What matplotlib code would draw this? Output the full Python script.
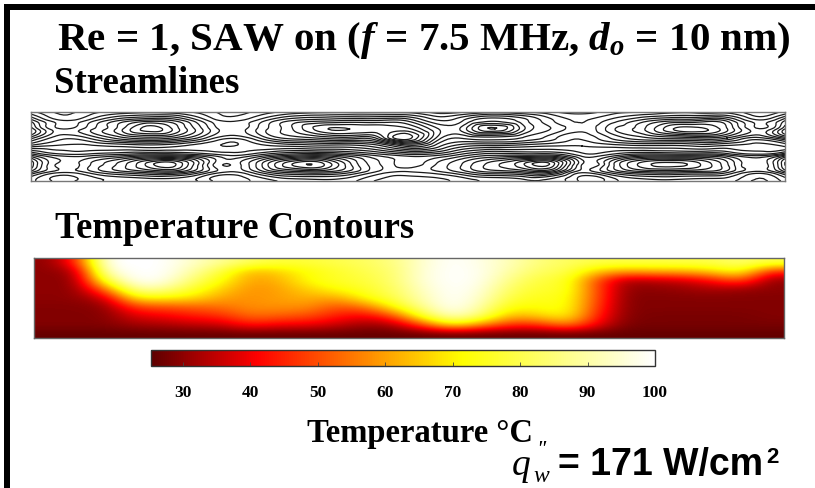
import numpy as np
import matplotlib
matplotlib.use('Agg')
import matplotlib.pyplot as plt
import matplotlib.tri as tri
from matplotlib.colors import LinearSegmentedColormap

W, H = 815, 489

plt.rcParams['font.family'] = ['Liberation Serif', 'DejaVu Serif']
plt.rcParams['mathtext.fontset'] = 'custom'
plt.rcParams['mathtext.rm'] = 'Liberation Serif:bold'
plt.rcParams['mathtext.it'] = 'Liberation Serif:italic:bold'
plt.rcParams['mathtext.bf'] = 'Liberation Serif:bold'

# stream function (rows top to bottom)
psi_x = [31, 60, 89, 118, 147, 176, 205, 234, 263, 292, 321, 350, 379, 408,
         437, 466, 495, 524, 553, 582, 611, 640, 669, 698, 727, 756, 785]
psi_y = [113, 122, 130, 139, 147, 156, 165, 173, 182]
psi_0 = [.3, .1, .2, .3, .35, .3, .2, .05, .2, .3, .35, .35, .35, .35, .2, .25, .35, .25, .15, .05, .2, .25, .35, .35, .35, .15, .3]
psi_1 = [.75, .30, .45, .80, 1.0, .9, .45, .25, .50, .8, .9, .95, .95, .9, .55, .70, .9, .70, .40, .25, .45, .70, .9, .95, .9, .45, .8]
psi_2 = [1.0, .40, .60, .95, 1.35, 1.1, .6, .3, .6, .9, 1.25, 1.3, 1.25, 1.2, .8, .9, 1.3, .8, .5, .3, .6, .85, 1.25, 1.35, 1.05, .55, 1.05]
psi_3 = [.7, .3, .4, .7, .85, .75, .4, .15, .45, .7, .8, .85, 1.0, 1.5, .75, .55, .6, .5, .3, .15, .4, .6, .7, .75, .65, .35, .7]
psi_4 = [.2, .1, .1, .15, .2, .15, .05, 0, .1, .15, .2, .2, .35, .7, .45, .15, .1, .05, 0, 0, .05, .1, .1, .15, .1, .05, .15]
psi_5 = [-.5, -.2, -.2, -.3, -.4, -.4, -.25, -.1, -.3, -.5, -.55, -.4, -.2, -.05, -.1, -.35, -.5, -.5, -.5, -.2, -.3, -.5, -.5, -.5, -.4, -.2, -.5]
psi_6 = [-1.0, -.35, -.5, -.8, -1.2, -1.3, -.6, -.3, -.8, -1.3, -1.35, -.8, -.4, -.2, -.4, -.7, -1.0, -1.3, -1.35, -.4, -.7, -1.2, -1.35, -1.2, -.8, -.4, -1.05]
psi_7 = [-.7, -.3, -.45, -.7, -.85, -.9, -.5, -.25, -.6, -.85, -.9, -.7, -.35, -.25, -.35, -.6, -.8, -.9, -.9, -.3, -.6, -.85, -.9, -.85, -.7, -.35, -.75]
psi_8 = [-.3, -.1, -.2, -.3, -.3, -.35, -.2, -.05, -.2, -.3, -.35, -.3, -.1, -.05, -.1, -.2, -.3, -.35, -.35, -.1, -.2, -.3, -.35, -.3, -.3, -.1, -.3]
psi = np.array([psi_0, psi_1, psi_2, psi_3, psi_4, psi_5, psi_6, psi_7, psi_8])

temp_0 = [30, 45, 100, 100, 100, 94, 88, 82, 78, 78, 80, 82, 86, 95, 100, 97, 92, 85, 82, 80, 80, 80, 80, 80, 84, 80]
temp_1 = [30, 32, 95, 100, 100, 90, 78, 62, 66, 72, 76, 80, 84, 96, 100, 98, 90, 82, 80, 65, 60, 62, 62, 66, 74, 45]
temp_2 = [30, 30, 80, 100, 98, 84, 72, 60, 62, 72, 76, 78, 84, 96, 100, 98, 86, 78, 76, 50, 32, 34, 36, 42, 52, 30]
temp_3 = [30, 30, 55, 90, 88, 76, 66, 58, 60, 66, 72, 76, 82, 94, 100, 96, 82, 76, 76, 50, 30, 30, 31, 33, 31, 30]
temp_4 = [30, 30, 36, 70, 70, 68, 60, 58, 60, 62, 60, 72, 80, 92, 100, 94, 78, 74, 74, 50, 29, 29, 29, 29, 29, 29]
temp_5 = [29, 29, 30, 48, 50, 52, 54, 58, 58, 58, 50, 54, 72, 88, 100, 90, 72, 72, 74, 48, 29, 29, 29, 29, 29, 29]
temp_6 = [29, 29, 29, 38, 40, 44, 46, 54, 52, 50, 44, 40, 50, 78, 94, 84, 62, 66, 72, 45, 29, 28, 28, 28, 28, 29]
temp_7 = [29, 29, 29, 32, 33, 35, 36, 44, 40, 40, 36, 31, 33, 50, 72, 58, 46, 46, 58, 40, 28, 28, 28, 28, 28, 28]
temp_8 = [26] * 26
temp = np.array([temp_0, temp_1, temp_2, temp_3, temp_4, temp_5, temp_6, temp_7, temp_8])

cbar_ticks = [30, 40, 50, 60, 70, 80, 90, 100]
t_min, t_max = 25.3, 100

stops = [(25.3, '#5f0000'), (41, '#ff0000'), (58, '#ff9000'), (71.5, '#ffff00'), (100, '#ffffff')]
cmap = LinearSegmentedColormap.from_list(
    'heat', [((t - t_min) / (t_max - t_min), c) for t, c in stops])


def box(x0, y0, x1, y1):
    return [x0 / W, 1 - y1 / H, (x1 - x0) / W, (y1 - y0) / H]


def label(x, y, s, **kw):
    fig.text(x / W, 1 - y / H, s, va='baseline', **kw)


fig = plt.figure(figsize=(W / 100, H / 100), dpi=100, facecolor='white')

# frame: only left and top are visible
frame = fig.add_axes([0, 0, 1, 1], zorder=-1)
frame.set_xlim(0, W)
frame.set_ylim(H, 0)
frame.axis('off')
frame.axvspan(4, 10, ymin=0, ymax=1 - 5 / H, color='black', lw=0)
frame.axhspan(5, 11, xmin=4 / W, xmax=1, color='black', lw=0)

# streamlines
ax1 = fig.add_axes(box(31, 113, 785, 182))
xx, yy = np.meshgrid(psi_x, psi_y)
triang = tri.Triangulation(xx.ravel(), yy.ravel())
fine_tri, fine_psi = tri.UniformTriRefiner(triang).refine_field(psi.ravel(), subdiv=3)
ax1.tricontour(fine_tri, fine_psi, levels=np.arange(-1.43, 1.5, 0.13), colors='#1a1a1a',
               linewidths=0.9, linestyles='solid')
ax1.set_xlim(31, 785)
ax1.set_ylim(182, 113)
ax1.set_xticks([])
ax1.set_yticks([])
for s in ax1.spines.values():
    s.set_color('#777777')
    s.set_linewidth(1.0)

# temperature
ax2 = fig.add_axes(box(34, 259, 784, 339))
im = ax2.imshow(temp, cmap=cmap, vmin=t_min, vmax=t_max, aspect='auto', interpolation='bicubic')
ax2.set_xticks([])
ax2.set_yticks([])
for s in ax2.spines.values():
    s.set_color('#666666')
    s.set_linewidth(1.0)

# colour bar
cax = fig.add_axes(box(151, 351, 655, 367))
cb = fig.colorbar(im, cax=cax, orientation='horizontal')
cb.set_ticks(cbar_ticks)
cb.set_ticklabels([str(t) for t in cbar_ticks])
cax.tick_params(axis='x', direction='in', length=3, width=0.6, color='#444444', pad=13)
for t in cax.get_xticklabels():
    t.set_fontweight('bold')
    t.set_fontsize(12.5)
cb.outline.set_edgecolor('#333333')
cb.outline.set_linewidth(1.0)

# texts
label(57, 50, r'Re = 1, SAW on ($f$ = 7.5 MHz, $d_o$ = 10 nm)', fontsize=29.5, fontweight='bold')
label(54, 93, 'Streamlines', fontsize=26.5, fontweight='bold')
label(55, 238, 'Temperature Contours', fontsize=26.4, fontweight='bold')
label(307, 442, 'Temperature °C', fontsize=23.5, fontweight='bold')
label(512, 475, 'q', fontsize=27, fontstyle='italic')
label(533, 482, 'w', fontsize=17, fontstyle='italic')
label(536, 456, "''", fontsize=17, fontstyle='italic')
label(558, 475, '= 171 W/cm', fontsize=27, fontweight='bold', family='Liberation Sans')
label(766, 463, '2', fontsize=16, fontweight='bold', family='Liberation Sans')

fig.savefig('out.png', dpi=100)
